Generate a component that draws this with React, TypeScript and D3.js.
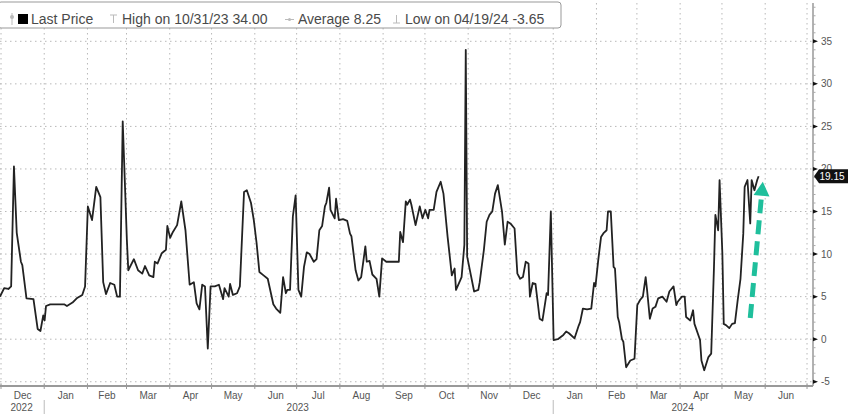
import React from "react";
import * as d3 from "d3";

const dates: string[] = [
  "2022-12-01","2022-12-04","2022-12-07","2022-12-09","2022-12-11","2022-12-13","2022-12-16","2022-12-17","2022-12-20","2022-12-25","2022-12-28","2022-12-30",
  "2023-01-01","2023-01-02","2023-01-03","2023-01-06","2023-01-11","2023-01-16","2023-01-18","2023-01-22","2023-01-25","2023-01-29","2023-01-31",
  "2023-02-02","2023-02-05","2023-02-08","2023-02-11","2023-02-13","2023-02-15","2023-02-18","2023-02-21","2023-02-23","2023-02-25","2023-02-27",
  "2023-03-02","2023-03-03","2023-03-07","2023-03-10","2023-03-13","2023-03-15","2023-03-18","2023-03-21","2023-03-22","2023-03-24","2023-03-27","2023-03-30","2023-03-31",
  "2023-04-02","2023-04-04","2023-04-07","2023-04-10","2023-04-13","2023-04-16","2023-04-19","2023-04-21","2023-04-23","2023-04-25","2023-04-27","2023-04-29",
  "2023-05-01","2023-05-04","2023-05-07","2023-05-10","2023-05-11","2023-05-14","2023-05-15","2023-05-17","2023-05-20","2023-05-22","2023-05-25","2023-05-27","2023-05-30",
  "2023-06-01","2023-06-03","2023-06-05","2023-06-08","2023-06-11","2023-06-15","2023-06-17","2023-06-20","2023-06-22","2023-06-24","2023-06-25","2023-06-27","2023-06-29",
  "2023-07-01","2023-07-03","2023-07-05","2023-07-07","2023-07-09","2023-07-11","2023-07-14","2023-07-16","2023-07-18","2023-07-20","2023-07-22","2023-07-23","2023-07-25","2023-07-26","2023-07-29","2023-07-30",
  "2023-08-01","2023-08-04","2023-08-07","2023-08-09","2023-08-10","2023-08-13","2023-08-15","2023-08-17","2023-08-20","2023-08-21","2023-08-23","2023-08-25","2023-08-28","2023-08-30",
  "2023-09-01","2023-09-04","2023-09-09","2023-09-13","2023-09-14","2023-09-16","2023-09-18","2023-09-19","2023-09-21","2023-09-22","2023-09-25","2023-09-28","2023-09-30",
  "2023-10-02","2023-10-04","2023-10-05","2023-10-08","2023-10-10","2023-10-13","2023-10-15","2023-10-18","2023-10-21","2023-10-23","2023-10-24","2023-10-27","2023-10-28","2023-10-30","2023-10-31",
  "2023-11-01","2023-11-06","2023-11-09","2023-11-10","2023-11-13","2023-11-15","2023-11-17","2023-11-19","2023-11-21","2023-11-23","2023-11-26","2023-11-28","2023-11-30",
  "2023-12-02","2023-12-05","2023-12-07","2023-12-09","2023-12-11","2023-12-13","2023-12-15","2023-12-16","2023-12-18","2023-12-20","2023-12-23","2023-12-25","2023-12-28","2023-12-29","2023-12-31",
  "2024-01-02","2024-01-05","2024-01-09","2024-01-11","2024-01-13","2024-01-17","2024-01-20","2024-01-21","2024-01-23","2024-01-26","2024-01-29","2024-01-31",
  "2024-02-01","2024-02-03","2024-02-05","2024-02-07","2024-02-09","2024-02-10","2024-02-12","2024-02-14","2024-02-15","2024-02-17","2024-02-18","2024-02-20","2024-02-21","2024-02-23","2024-02-26","2024-02-29",
  "2024-03-02","2024-03-04","2024-03-06","2024-03-08","2024-03-09","2024-03-11","2024-03-13","2024-03-15","2024-03-17","2024-03-20","2024-03-23","2024-03-25","2024-03-28","2024-03-30","2024-03-31",
  "2024-04-03","2024-04-05","2024-04-06","2024-04-09","2024-04-11","2024-04-12","2024-04-16","2024-04-17","2024-04-19","2024-04-22","2024-04-24","2024-04-26","2024-04-27","2024-04-29","2024-04-30",
  "2024-05-02","2024-05-03","2024-05-05","2024-05-07","2024-05-09","2024-05-11","2024-05-13","2024-05-15","2024-05-17","2024-05-18","2024-05-20","2024-05-22","2024-05-23","2024-05-25","2024-05-27","2024-05-28",
];

const values: number[] = [
  5.0,6.0,5.9,6.2,20.3,12.5,9.1,8.7,4.8,4.7,1.2,0.96,
  2.8,2.2,3.9,4.1,4.1,4.1,3.9,4.3,4.8,5.2,6.2,
  15.6,14.0,17.9,16.7,6.7,5.3,6.6,6.4,5.0,5.0,25.6,
  11.6,8.1,9.4,8.1,7.7,8.6,7.5,7.3,9.1,8.9,10.1,10.5,13.3,
  11.9,12.6,13.4,16.2,12.8,6.4,6.7,4.2,3.5,6.4,6.2,-1.1,
  6.2,6.2,6.4,4.7,6.0,5.0,6.5,5.2,5.4,6.2,17.3,17.5,16.0,
  14.0,11.3,7.9,7.5,7.1,4.1,3.6,3.1,7.3,5.4,5.8,5.8,14.4,
  16.9,5.8,5.0,8.5,10.2,10.0,9.1,9.4,12.8,13.3,15.6,16.0,17.8,15.2,14.2,16.5,
  14.0,14.1,13.9,12.4,12.1,8.1,6.9,7.3,10.9,9.1,9.2,7.6,7.1,5.0,
  9.5,9.1,9.1,9.1,12.6,11.4,16.2,15.8,16.4,15.8,13.4,15.6,14.2,
  15.2,14.2,15.2,15.2,17.3,18.5,17.1,12.0,7.5,8.3,5.8,6.9,7.3,11.1,34.0,
  9.7,5.6,5.8,6.7,10.5,13.8,14.6,15.0,17.1,18.1,15.0,11.1,13.8,
  13.6,13.0,7.7,7.1,7.3,9.1,8.9,5.0,6.6,6.5,2.4,2.2,5.4,5.2,15.0,
  -0.1,0.0,0.5,0.9,0.7,0.1,1.6,2.0,3.6,3.5,3.6,6.6,
  6.2,9.3,12.0,12.5,12.8,15.0,15.0,8.5,8.3,2.6,2.0,0.0,-0.3,-3.3,-2.5,-2.3,
  4.0,4.6,5.0,7.3,5.8,2.4,3.6,3.8,4.8,5.0,4.4,5.6,6.2,4.0,4.4,
  5.0,5.0,2.6,2.2,3.4,1.8,-0.1,-2.5,-3.65,-2.1,-1.7,8.5,14.6,12.8,18.7,
  10.1,1.8,1.6,1.3,1.8,1.9,4.6,7.1,12.4,17.9,18.7,13.6,18.7,17.5,18.7,19.15,
];

const yTicks: number[] = [-5, 0, 5, 10, 15, 20, 25, 30, 35];
const xDomain: string[] = ["2022-12-01", "2024-07-06"];
const yDomain: number[] = [-5.5, 39.5];
const yearLabels: { year: string; from: string; to: string }[] = [
  { year: "2022", from: "2022-12-01", to: "2023-01-01" },
  { year: "2023", from: "2023-01-01", to: "2024-01-01" },
  { year: "2024", from: "2024-01-01", to: "2024-07-06" },
];
const legendItems: { text: string; x: number }[] = [
  { text: "Last Price", x: 31 },
  { text: "High on 10/31/23 34.00", x: 122 },
  { text: "Average 8.25", x: 298 },
  { text: "Low on 04/19/24 -3.65", x: 405 },
];
const lastValueLabel = "19.15";
const arrowFrom: [string, number] = ["2024-05-22", 2.5];
const arrowTo: [string, number] = ["2024-05-31", 18.5];

const parse = d3.timeParse("%Y-%m-%d");

export default function App() {
  const W = 848, H = 418;
  const left = 0, right = 813, top = 3, bottom = 386;
  const x = d3.scaleTime().domain(xDomain.map((s) => parse(s) as Date)).range([left, right]);
  const y = d3.scaleLinear().domain(yDomain).range([bottom, top]);
  const pts = dates.map((d, i) => [parse(d) as Date, values[i]] as [Date, number]);
  const line = d3.line<[Date, number]>().x((d) => x(d[0])).y((d) => y(d[1]));
  const [d0, d1] = x.domain();
  const monthStarts = d3.timeMonth.range(d0, d1);
  const monthLabels = monthStarts
    .map((m) => ({ m, next: d3.timeMonth.offset(m, 1) }))
    .filter((o) => x(o.next) <= right + 2);
  const minor = d3.range(-5, 40, 1);
  const fmt = d3.timeFormat("%b");
  const font = "'Liberation Sans', Arial, sans-serif";

  const ax0 = x(parse(arrowFrom[0]) as Date), ay0 = y(arrowFrom[1]);
  const ax1 = x(parse(arrowTo[0]) as Date), ay1 = y(arrowTo[1]);
  const ang = Math.atan2(ay1 - ay0, ax1 - ax0);
  const headLen = 14, headW = 8;
  const bx = ax1 - headLen * Math.cos(ang), by = ay1 - headLen * Math.sin(ang);
  const px = -Math.sin(ang), py = Math.cos(ang);

  const lastY = y(values[values.length - 1]);

  return (
    <svg width={W} height={H} style={{ position: "absolute", left: 0, top: 0, background: "#fff" }} fontFamily={font}>
      <rect x={0} y={0} width={W} height={H} fill="#fff" />
      {yTicks.map((t) => (
        <line key={"hg" + t} x1={left} x2={right} y1={y(t)} y2={y(t)} stroke="#b8b8b8" strokeWidth={1} strokeDasharray="1.5,3.5" />
      ))}
      {monthStarts.map((m, i) => (
        <line key={"vg" + i} x1={x(m) + 1} x2={x(m) + 1} y1={top} y2={bottom} stroke="#b8b8b8" strokeWidth={1} strokeDasharray="1.5,3.5" />
      ))}
      <line x1={left} x2={right} y1={bottom} y2={bottom} stroke="#999" strokeWidth={2} />
      <line x1={right} x2={right} y1={top} y2={bottom} stroke="#999" strokeWidth={1.5} />
      {minor.map((t) => (
        <line key={"mt" + t} x1={right} x2={right + 2.5} y1={y(t)} y2={y(t)} stroke="#aaa" strokeWidth={1} />
      ))}
      {yTicks.map((t) => (
        <g key={"yt" + t}>
          <path d={`M${right},${y(t) - 2}L${right + 5},${y(t)}L${right},${y(t) + 2}Z`} fill="#111" />
          <text x={821} y={y(t)} dy="0.35em" fontSize={10} fill="#555">{t}</text>
        </g>
      ))}
      {monthStarts.map((m, i) => (
        <line key={"xt" + i} x1={x(m) + 1} x2={x(m) + 1} y1={bottom - 2} y2={bottom + 3} stroke="#999" strokeWidth={1} />
      ))}
      {monthLabels.map((o, i) => (
        <text key={"ml" + i} x={(x(o.m) + x(o.next)) / 2 + 1} y={399} textAnchor="middle" fontSize={10} fill="#555">{fmt(o.m)}</text>
      ))}
      {yearLabels.map((yl, i) => {
        const a = x(parse(yl.from) as Date), b = Math.min(x(parse(yl.to) as Date), right);
        return (
          <g key={"yl" + i}>
            <text x={(a + b) / 2} y={411} textAnchor="middle" fontSize={10} fill="#555">{yl.year}</text>
            {i > 0 && <line x1={a + 1} x2={a + 1} y1={400} y2={414} stroke="#bbb" strokeWidth={1} />}
          </g>
        );
      })}
      <path d={line(pts) || ""} fill="none" stroke="#222" strokeWidth={1.8} strokeLinejoin="round" />
      <line x1={ax0} y1={ay0} x2={bx} y2={by} stroke="#1fbf9c" strokeWidth={5} strokeDasharray="14,7" />
      <path d={`M${ax1},${ay1}L${bx + px * headW},${by + py * headW}L${bx - px * headW},${by - py * headW}Z`} fill="#1fbf9c" />
      <path d={`M${right + 1},${lastY}L${right + 6},${lastY - 7}L${W},${lastY - 7}L${W},${lastY + 7}L${right + 6},${lastY + 7}Z`} fill="#111" />
      <text x={832} y={lastY} dy="0.36em" textAnchor="middle" fontSize={10} fill="#fff">{lastValueLabel}</text>
      <rect x={-2} y={2} width={563} height={26} rx={3} fill="#fff" stroke="#999" strokeWidth={1} />
      <line x1={12} x2={12} y1={13} y2={25} stroke="#bbb" strokeWidth={1} />
      <circle cx={12} cy={17} r={2} fill="#bbb" />
      <rect x={18} y={14} width={10} height={10} fill="#000" />
      <line x1={110} x2={117} y1={15} y2={15} stroke="#bbb" strokeWidth={1} />
      <line x1={113.5} x2={113.5} y1={15} y2={23} stroke="#bbb" strokeWidth={1} />
      <line x1={285} x2={294} y1={19.5} y2={19.5} stroke="#bbb" strokeWidth={1} />
      <circle cx={289.5} cy={19.5} r={1.5} fill="#bbb" />
      <line x1={396.5} x2={396.5} y1={15} y2={23} stroke="#bbb" strokeWidth={1} />
      <line x1={393} x2={400} y1={23} y2={23} stroke="#bbb" strokeWidth={1} />
      {legendItems.map((it, i) => (
        <text key={"lg" + i} x={it.x} y={24} fontSize={14} fill="#4a4a4a">{it.text}</text>
      ))}
    </svg>
  );
}
